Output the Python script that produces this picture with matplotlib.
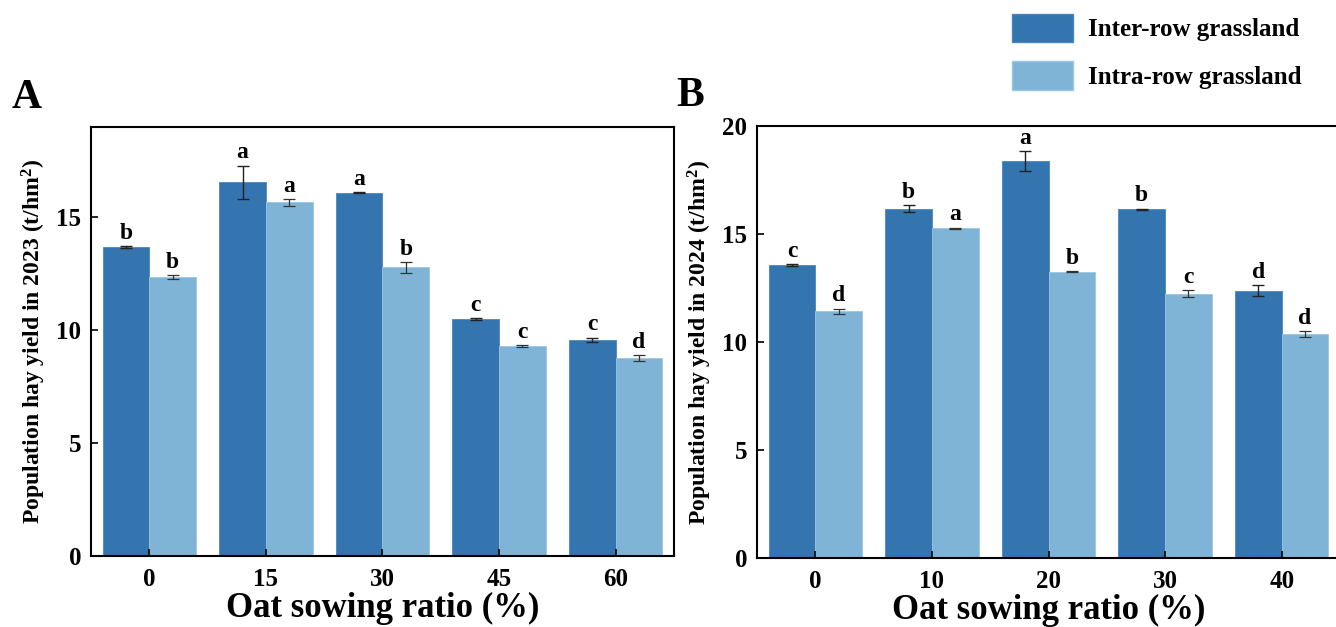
import numpy as np
import matplotlib
matplotlib.use("Agg")
import matplotlib.pyplot as plt
from matplotlib.patches import Patch

plt.rcParams["font.family"] = "Liberation Serif"
plt.rcParams["font.weight"] = "bold"
plt.rcParams["mathtext.fontset"] = "custom"
plt.rcParams["mathtext.rm"] = "Liberation Serif:bold"
plt.rcParams["mathtext.it"] = "Liberation Serif:bold"
plt.rcParams["mathtext.bf"] = "Liberation Serif:bold"

# panel A (2023)
ratiosA = ["0", "15", "30", "45", "60"]
interA = [13.67, 16.56, 16.09, 10.49, 9.57]
interA_err = [0.05, 0.73, 0.03, 0.03, 0.10]
intraA = [12.35, 15.66, 12.79, 9.31, 8.75]
intraA_err = [0.10, 0.15, 0.24, 0.04, 0.13]
interA_lab = ["b", "a", "a", "c", "c"]
intraA_lab = ["b", "a", "b", "c", "d"]

# panel B (2024)
ratiosB = ["0", "10", "20", "30", "40"]
interB = [13.57, 16.17, 18.37, 16.15, 12.37]
interB_err = [0.03, 0.15, 0.47, 0.03, 0.26]
intraB = [11.43, 15.27, 13.26, 12.24, 10.35]
intraB_err = [0.12, 0.03, 0.03, 0.17, 0.14]
interB_lab = ["c", "b", "a", "b", "d"]
intraB_lab = ["d", "a", "b", "c", "d"]

darkC = "#3474AF"
lightC = "#7FB4D7"

fig = plt.figure(figsize=(13.36, 6.27), dpi=100)
W, H = 1336, 627
axA = fig.add_axes([91 / W, (H - 556) / H, (674 - 91) / W, (556 - 127) / H])
axB = fig.add_axes([757 / W, (H - 558) / H, (1340 - 757) / W, (558 - 126) / H])


def drawPanel(ax, ratios, inter, interErr, intra, intraErr, interLab, intraLab, yTop, yTicks, year):
    x = np.arange(len(ratios))
    w = 0.4
    ax.bar(x - w / 2, inter, w, color=darkC, edgecolor="#4A86BE", linewidth=0.6)
    ax.bar(x + w / 2, intra, w, color=lightC, edgecolor="#9CC6E2", linewidth=0.6)
    ax.errorbar(x - w / 2, inter, yerr=interErr, fmt="none", ecolor="#222222", elinewidth=1.0, capsize=4, capthick=1.0)
    ax.errorbar(x + w / 2, intra, yerr=intraErr, fmt="none", ecolor="#333333", elinewidth=0.9, capsize=4, capthick=0.9)
    for i in range(len(ratios)):
        ax.text(x[i] - w / 2, inter[i] + interErr[i] + 0.1, interLab[i], ha="center", va="bottom", fontsize=17, fontweight="bold")
        ax.text(x[i] + w / 2, intra[i] + intraErr[i] + 0.1, intraLab[i], ha="center", va="bottom", fontsize=17, fontweight="bold")
    ax.set_xlim(-0.5, len(ratios) - 0.5)
    ax.set_ylim(0, yTop)
    ax.set_xticks(x)
    ax.set_xticklabels(ratios)
    ax.set_yticks(yTicks)
    ax.tick_params(direction="in", length=5, width=1.2, labelsize=18, pad=9)
    ax.tick_params(axis="y", pad=7)
    for s in ax.spines.values():
        s.set_linewidth(1.5)
    ax.set_xlabel("Oat sowing ratio (%)", fontsize=25, fontweight="bold", labelpad=0)
    ax.set_ylabel("Population hay yield in " + year + " (t/hm$^{2}$)", fontsize=17, fontweight="bold", labelpad=6)


drawPanel(axA, ratiosA, interA, interA_err, intraA, intraA_err, interA_lab, intraA_lab, 19, [0, 5, 10, 15], "2023")
drawPanel(axB, ratiosB, interB, interB_err, intraB, intraB_err, interB_lab, intraB_lab, 20, [0, 5, 10, 15, 20], "2024")

fig.text(12 / W, 1 - 108 / H, "A", fontsize=30, fontweight="bold", ha="left", va="baseline")
fig.text(676 / W, 1 - 106 / H, "B", fontsize=30, fontweight="bold", ha="left", va="baseline")

handles = [Patch(facecolor=darkC, edgecolor="#4A86BE"), Patch(facecolor=lightC, edgecolor="#9CC6E2")]
fig.legend(handles, ["Inter-row grassland", "Intra-row grassland"], loc="upper left",
           bbox_to_anchor=(989 / W, 1 + 9 / H), frameon=False, prop={"size": 18, "weight": "bold"},
           handlelength=2.45, handleheight=1.4, handletextpad=0.6, labelspacing=0.75, borderpad=0.4)

fig.savefig("out.png", dpi=100)
